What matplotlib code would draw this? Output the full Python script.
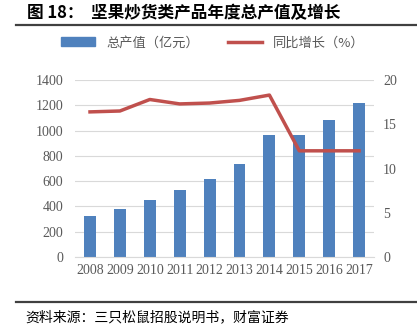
import matplotlib.pyplot as plt
from matplotlib.lines import Line2D
from matplotlib.patches import Patch

years = ["2008", "2009", "2010", "2011", "2012", "2013", "2014", "2015", "2016", "2017"]
output_value = [326, 382, 453, 533, 620, 732, 963, 963, 1082, 1217]
growth = [16.4, 16.5, 17.8, 17.3, 17.4, 17.7, 18.3, 12.0, 12.0, 12.0]

cjk = ["Noto Sans CJK SC", "DejaVu Sans"]
serif = ["Liberation Serif", "DejaVu Serif"]

fig = plt.figure(figsize=(4.17, 3.28), dpi=100)
ax = fig.add_axes([0.18, 0.2165, 0.717, 0.5395])
ax2 = ax.twinx()

x = range(len(years))
ax.bar(x, output_value, width=0.4, color="#4F81BD", zorder=2)
ax2.plot(x, growth, color="#C0504D", linewidth=2.5, zorder=3)

ax.set_ylim(0, 1400)
ax.set_yticks(range(0, 1401, 200))
ax2.set_ylim(0, 20)
ax2.set_yticks(range(0, 21, 5))
ax.set_xlim(-0.5, len(years) - 0.5)
ax.set_xticks(list(x))
ax.set_xticklabels(years)

ax.grid(axis="y", color="#D9D9D9", linewidth=0.8, zorder=0)
ax.set_axisbelow(True)
for a in (ax, ax2):
    for s in a.spines.values():
        s.set_visible(False)
    a.tick_params(length=0, labelsize=10, colors="#595959", pad=5)
    for lab in a.get_xticklabels() + a.get_yticklabels():
        lab.set_family(serif)
ax.spines["bottom"].set_visible(True)
ax.spines["bottom"].set_color("#D9D9D9")
ax.tick_params(axis="y", pad=8.5)
ax2.tick_params(axis="y", pad=6.5)

handles = [Patch(color="#4F81BD"), Line2D([0], [0], color="#C0504D", linewidth=2.5)]
fig.legend(handles, ["总产值（亿元）", "同比增长（%）"], loc="center",
           bbox_to_anchor=(0.51, 0.869), ncol=2, frameon=False,
           prop={"family": cjk, "size": 9.5}, handlelength=2.6,
           columnspacing=2.2, labelcolor="#595959")

fig.text(0.065, 0.96, "图 18：  坚果炒货类产品年度总产值及增长", family=cjk,
         fontsize=12, fontweight="bold", va="center")
fig.add_artist(Line2D([0.038, 1.0], [0.923, 0.923], color="#404040", linewidth=1.6))
fig.add_artist(Line2D([0.038, 1.0], [0.079, 0.079], color="#404040", linewidth=1.6))
fig.text(0.06, 0.034, "资料来源：三只松鼠招股说明书，财富证券", family=cjk,
         fontsize=10, style="italic", va="center")

fig.savefig("out.png", dpi=100)
